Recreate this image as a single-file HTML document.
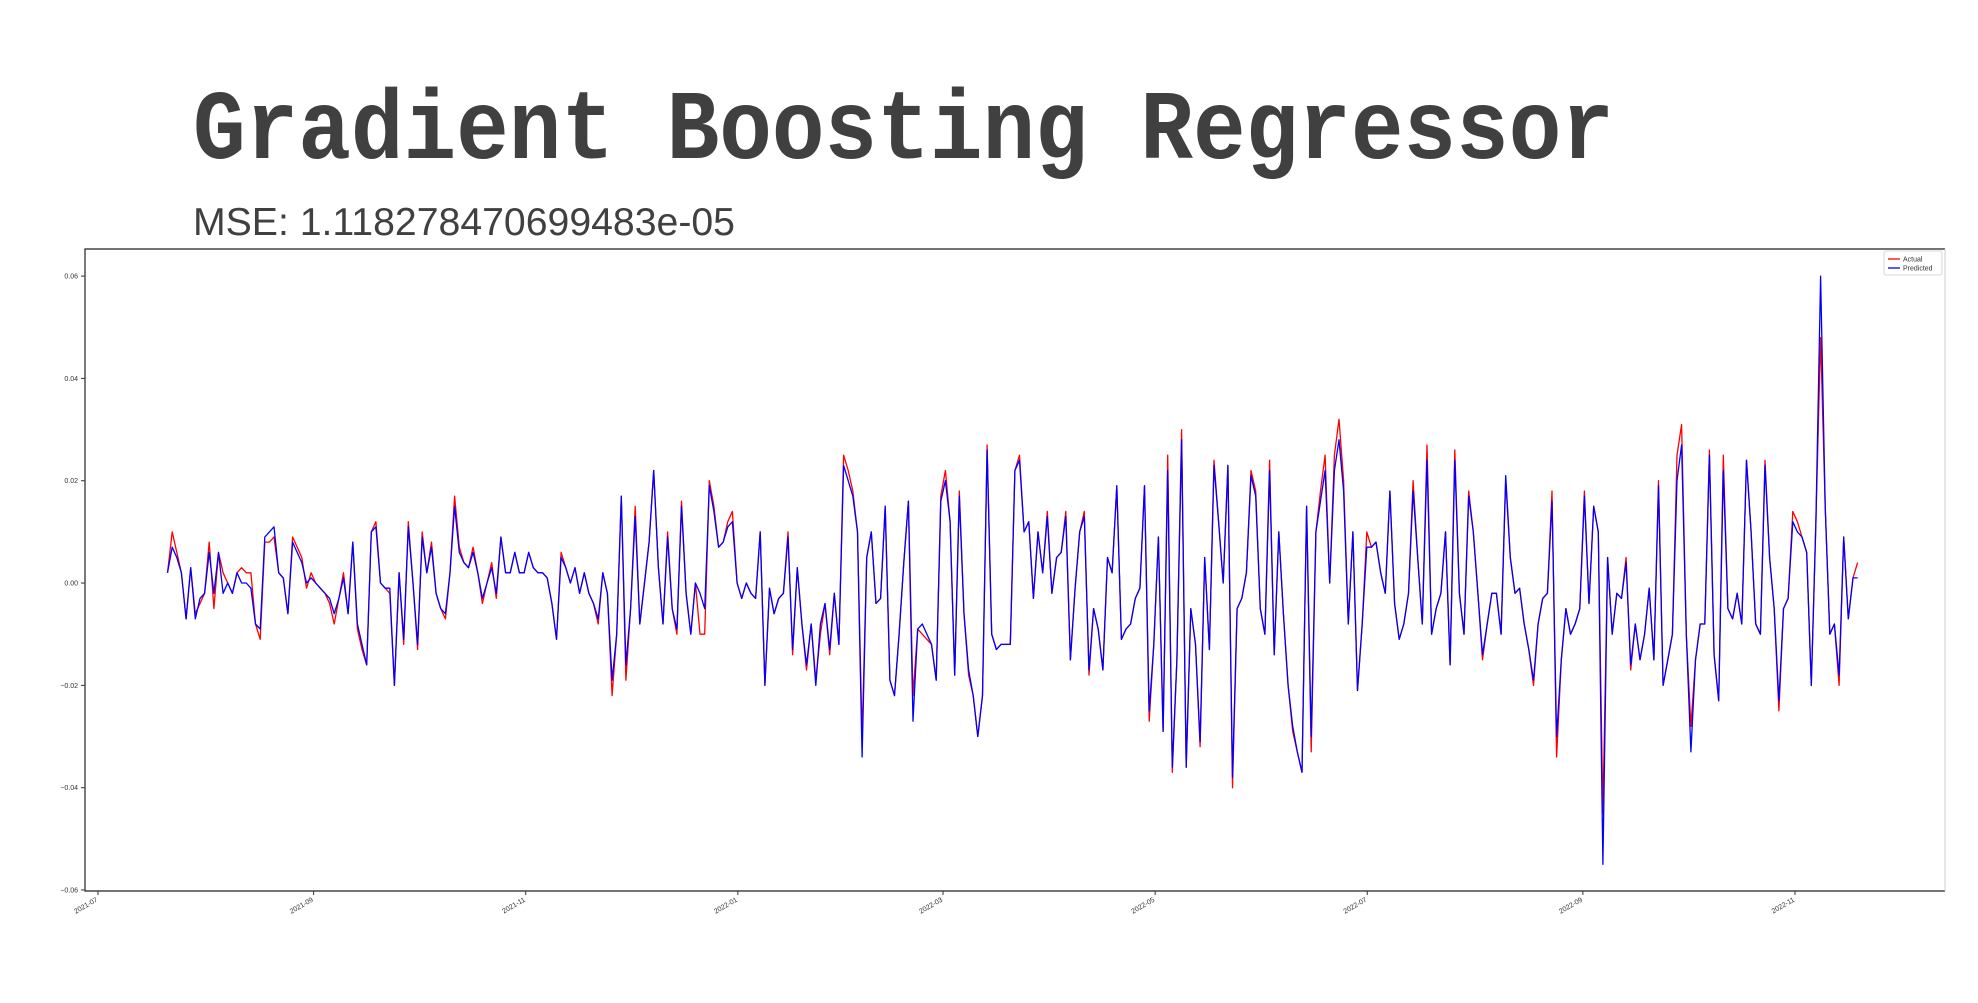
<!DOCTYPE html>
<html><head><meta charset="utf-8"><style>
html,body{margin:0;padding:0;background:#fff;width:1978px;height:1003px;overflow:hidden}
svg{display:block}
</style></head><body>
<svg id="chart" width="1978" height="1003" viewBox="0 0 1978 1003" xmlns="http://www.w3.org/2000/svg">
<text x="193" y="158" font-family="Liberation Mono, monospace" font-weight="bold" font-size="98" fill="#404040" textLength="1421" lengthAdjust="spacingAndGlyphs">Gradient Boosting Regressor</text>
<text x="193" y="235" font-family="Liberation Sans, sans-serif" font-size="39" fill="#404040" textLength="542" lengthAdjust="spacingAndGlyphs">MSE: 1.118278470699483e-05</text>
<g id="plot"></g>
</svg>
<script>
const yTicks = [0.06, 0.04, 0.02, 0.00, -0.02, -0.04, -0.06];
const yTickLabels = ["0.06","0.04","0.02","0.00","\u22120.02","\u22120.04","\u22120.06"];
const xTickDates = ["2021-07-01","2021-09-01","2021-11-01","2022-01-01","2022-03-01","2022-05-01","2022-07-01","2022-09-01","2022-11-01"];
const xTickLabels = ["2021-07","2021-09","2021-11","2022-01","2022-03","2022-05","2022-07","2022-09","2022-11"];
const dateRange = ["2021-07-21","2022-11-19"];
const actual = [2,10,6,2,-7,3,-6,-4,-2,8,-5,6,2,0,-2,2,3,2,2,-8,-11,8,8,9,2,1,-6,9,7,5,-1,2,0,-1,-2,-4,-8,-3,2,-6,8,-9,-13,-16,10,12,0,-1,-2,-20,2,-12,12,0,-13,10,2,8,-2,-5,-7,2,17,7,4,3,7,2,-4,0,4,-3,9,2,2,6,2,2,6,3,2,2,1,-4,-11,6,3,0,3,-2,2,-2,-4,-8,2,-2,-22,-10,17,-19,-5,15,-8,0,8,22,3,-8,10,-5,-10,16,-2,-10,0,-10,-10,20,15,7,8,12,14,0,-3,0,-2,-3,10,-20,-1,-6,-3,-2,10,-14,3,-8,-17,-8,-19,-10,-4,-14,-2,-12,25,22,18,10,-30,5,10,-4,-3,15,-19,-22,-10,4,16,-22,-9,-10,-11,-12,-19,17,22,12,-18,18,-6,-18,-22,-30,-22,27,-10,-13,-12,-12,-12,22,25,10,12,-3,10,2,14,-2,5,6,14,-15,-1,10,14,-18,-5,-9,-17,5,2,19,-11,-9,-8,-3,-1,19,-27,-12,9,-29,25,-37,-15,30,-36,-5,-12,-32,5,-13,24,12,0,23,-40,-5,-3,2,22,18,-5,-10,24,-14,10,-6,-20,-29,-33,-37,15,-33,10,18,25,0,25,32,20,-8,10,-21,-8,10,7,8,2,-2,18,-4,-11,-8,-2,20,5,-8,27,-10,-5,-2,10,-16,26,-2,-10,18,10,-2,-15,-8,-2,-2,-10,20,5,-2,-1,-8,-13,-20,-8,-3,-2,18,-34,-15,-5,-10,-8,-5,18,-4,15,10,-45,5,-10,-2,-3,5,-17,-8,-15,-10,-1,-15,20,-20,-15,-10,25,31,-10,-28,-15,-8,-8,26,-14,-23,25,-5,-7,-2,-8,24,10,-8,-10,24,5,-5,-25,-5,-3,14,12,9,6,-20,12,48,15,-10,-8,-20,9,-7,1,4];
const predicted = [2,7,5,2,-7,3,-7,-3,-2,6,-2,6,-2,0,-2,2,0,0,-1,-8,-9,9,10,11,2,1,-6,8,6,4,0,1,0,-1,-2,-3,-6,-3,1,-6,8,-8,-12,-16,10,11,0,-1,-1,-20,2,-11,11,0,-12,9,2,7,-2,-5,-6,2,15,6,4,3,6,2,-3,0,3,-2,9,2,2,6,2,2,6,3,2,2,1,-4,-11,5,3,0,3,-2,2,-2,-4,-7,2,-2,-19,-10,17,-16,-5,13,-8,0,8,22,3,-8,9,-5,-9,15,-2,-10,0,-2,-5,19,14,7,8,11,12,0,-3,0,-2,-3,10,-20,-1,-6,-3,-2,9,-13,3,-8,-16,-8,-20,-8,-4,-13,-2,-12,23,20,17,10,-34,5,10,-4,-3,15,-19,-22,-10,4,16,-27,-9,-8,-10,-12,-19,16,20,12,-18,17,-6,-17,-22,-30,-22,26,-10,-13,-12,-12,-12,22,24,10,12,-3,10,2,13,-2,5,6,13,-15,-1,10,13,-17,-5,-9,-17,5,2,19,-11,-9,-8,-3,-1,19,-25,-12,9,-29,22,-36,-15,28,-36,-5,-12,-31,5,-13,23,12,0,23,-38,-5,-3,2,21,17,-5,-10,22,-14,10,-6,-20,-28,-33,-37,15,-30,10,16,22,0,22,28,18,-8,10,-21,-8,7,7,8,2,-2,18,-4,-11,-8,-2,18,5,-8,24,-10,-5,-2,10,-16,24,-2,-10,17,10,-2,-14,-8,-2,-2,-10,21,5,-2,-1,-8,-13,-19,-8,-3,-2,16,-30,-15,-5,-10,-8,-5,17,-4,15,10,-55,5,-10,-2,-3,4,-16,-8,-15,-10,-1,-15,19,-20,-15,-10,20,27,-10,-33,-15,-8,-8,25,-14,-23,22,-5,-7,-2,-8,24,10,-8,-10,23,5,-5,-23,-5,-3,12,10,9,6,-20,12,60,15,-10,-8,-18,9,-7,1,1];

const L=85, R=1945, T=249, B=891;
const x0 = Date.parse("2021-07-01"), pxPerDay = (1795-98)/488;
function xScale(d){ return 98 + (Date.parse(d)-x0)/86400000*pxPerDay; }
function xScaleMs(ms){ return 98 + (ms-x0)/86400000*pxPerDay; }
const yMin=-0.0602, yMax=0.0653;
function yScale(v){ return B - (v-yMin)/(yMax-yMin)*(B-T); }
const NS="http://www.w3.org/2000/svg";
const g=document.getElementById('plot');
function mk(tag,attrs){const e=document.createElementNS(NS,tag);for(const k in attrs)e.setAttribute(k,attrs[k]);return e;}

const frame=mk('path',{d:`M${R} ${T} L${L} ${T} L${L} ${B} L${R} ${B}`,fill:'none',stroke:'#222','stroke-width':1.2});


g.appendChild(frame);
const rsp=mk('line',{x1:R,x2:R,y1:T,y2:B,stroke:'#ccc','stroke-width':1});


g.appendChild(rsp);

yTicks.forEach((v,i)=>{
  const y=yScale(v);
  const t=mk('line',{x1:L-4,x2:L,y1:y,y2:y,stroke:'#333','stroke-width':1});
  
  
  g.appendChild(t);
  const tx=mk('text',{x:L-7,y:y+2.5,'font-family':'Liberation Sans, sans-serif','font-size':7,fill:'#333','text-anchor':'end'});
  tx.textContent=yTickLabels[i];
  
  
  g.appendChild(tx);
});
xTickDates.forEach((d,i)=>{
  const x=xScale(d);
  const t=mk('line',{x1:x,x2:x,y1:B,y2:B+4,stroke:'#333','stroke-width':1});
  
  
  g.appendChild(t);
  const tx=mk('text',{x:x,y:B+10,'font-family':'Liberation Sans, sans-serif','font-size':7,fill:'#333','text-anchor':'end',transform:`rotate(-30 ${x} ${B+10})`});
  tx.textContent=xTickLabels[i];
  
  
  g.appendChild(tx);
});

const s=Date.parse(dateRange[0]), e=Date.parse(dateRange[1]);
function path(arr){
  const n=arr.length;
  return arr.map((v,i)=>{const ms=s+(e-s)*i/(n-1);return (i?'L':'M')+xScaleMs(ms).toFixed(1)+' '+yScale(v/1000).toFixed(1);}).join(' ');
}
const pa=mk('path',{d:path(actual),fill:'none',stroke:'#ff0000','stroke-width':1.3,'stroke-linejoin':'round'});


g.appendChild(pa);
const pp=mk('path',{d:path(predicted),fill:'none',stroke:'#0000ff','stroke-width':1.3,'stroke-linejoin':'round'});


g.appendChild(pp);

const lg=mk('g',{});


lg.appendChild(mk('rect',{x:1884,y:251,width:58,height:24,fill:'#fff',stroke:'#ccc','stroke-width':0.8,rx:2}));
[['Actual','#ff0000',259],['Predicted','#0000ff',268]].forEach(([lab,c,y])=>{
  const ln=mk('line',{x1:1888,x2:1900,y1:y,y2:y,stroke:c,'stroke-width':1.3});
  
  
  lg.appendChild(ln);
  const t=mk('text',{x:1903,y:y+2.5,'font-family':'Liberation Sans, sans-serif','font-size':7,fill:'#333'});
  t.textContent=lab;
  
  
  lg.appendChild(t);
});
g.appendChild(lg);
</script>
</body></html>
